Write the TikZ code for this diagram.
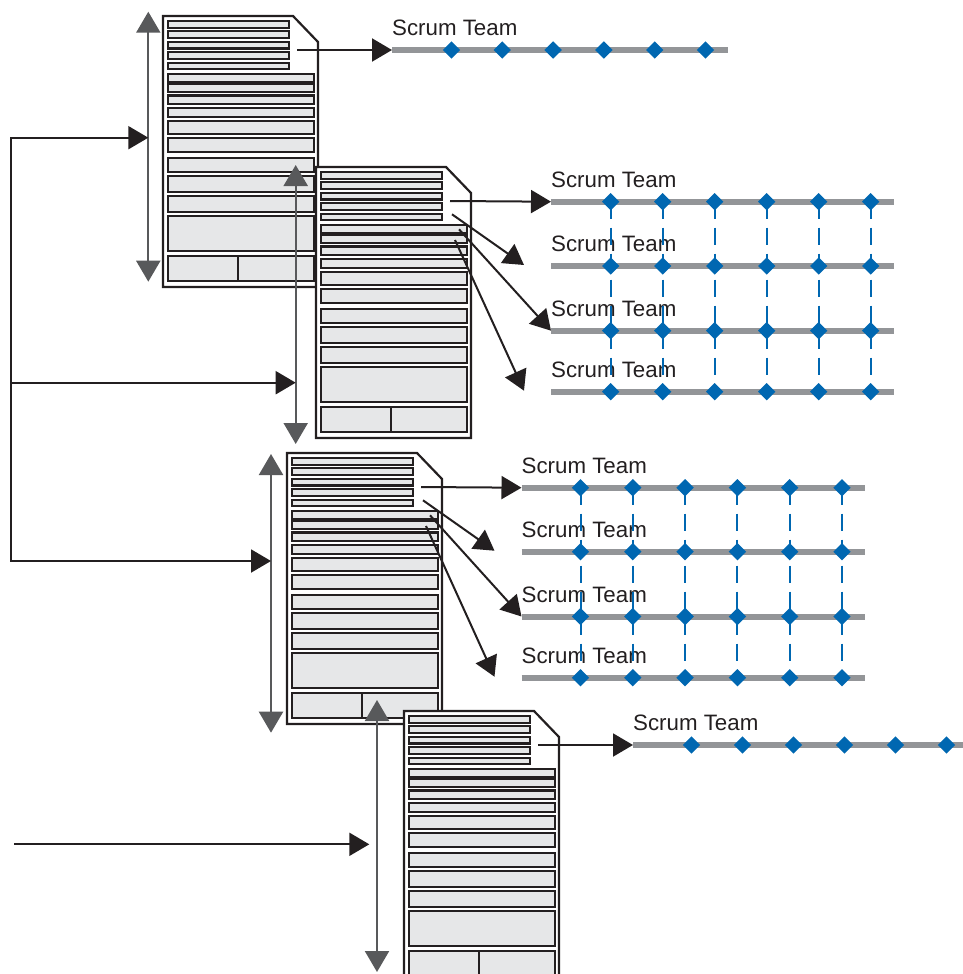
\documentclass[tikz,border=0pt]{standalone}
\usepackage{fontspec}
\setmainfont{Liberation Sans}
\usepackage{xcolor}
\usetikzlibrary{arrows.meta,shapes.geometric,calc}

\definecolor{ink}{HTML}{231F20}
\definecolor{formgray}{HTML}{E6E7E8}
\definecolor{trackgray}{HTML}{939598}
\definecolor{spangray}{HTML}{58595B}
\definecolor{sprintblue}{HTML}{0067B1}

\begin{document}
\begin{tikzpicture}[x=1pt, y=-1pt, >={Triangle[length=20pt,width=23pt]},
    docline/.style={draw=ink, fill=white, line width=2.2pt, line join=miter},
    fieldbox/.style={draw=ink, fill=formgray, line width=2.1pt},
    trackline/.style={draw=trackgray, line width=6pt},
    milestone/.style={diamond, fill=sprintblue, inner sep=0pt, minimum size=17.5pt},
    sprintlink/.style={draw=sprintblue, line width=2pt, dash pattern=on 17pt off 9pt},
    teamlabel/.style={anchor=base west, inner sep=0pt, yshift=14.5pt, text=ink, font=\fontsize{22.3}{26}\selectfont},
    feedarrow/.style={draw=ink, line width=2pt, line join=miter, ->},
    spanarrow/.style={draw=spangray, line width=2.2pt, {Triangle[length=21pt,width=24pt]}-{Triangle[length=21pt,width=24pt]}},
    formsheet/.pic={
        \draw[docline] (0,0) -- (130,0) -- (155,26) -- (155,271) -- (0,271) -- cycle;
        \foreach \ya in {5,15.4,25.8,36.2,46.6}
            \draw[fieldbox] (4.6,\ya) rectangle (126,\ya+6.7);
        \foreach \ya/\yb in {57.8/65.8, 67.8/76, 79.5/88.3, 91.8/101, 105/118.3, 121.8/135.8,
                             141.6/156.3, 160.3/176.2, 180/195.6, 200.3/235, 239.8/265}
            \draw[fieldbox] (4.6,\ya) rectangle (150.8,\yb);
        \draw[fieldbox] (75,239.8) -- (75,265);
        \coordinate (-o1) at (134,34);
        \coordinate (-o2) at (136,47.3);
        \coordinate (-o3) at (143,62.3);
        \coordinate (-o4) at (139,73);
    }]
    \useasboundingbox (0,0) rectangle (963,974);
    \clip (0,0) rectangle (963,974);

    \pic (d1) at (163,16) {formsheet};
    \pic (d2) at (316,167) {formsheet};
    \pic (d3) at (287,453) {formsheet};
    \pic (d4) at (404,711) {formsheet};

    \coordinate (s1a) at (148.3,11.7);  \coordinate (s1b) at (148.3,281.7);
    \coordinate (s2a) at (295.7,165);   \coordinate (s2b) at (295.7,444);
    \coordinate (s3a) at (271,454);     \coordinate (s3b) at (271,732.7);
    \coordinate (s4a) at (377,700);     \coordinate (s4b) at (377,972);
    \foreach \s in {1,...,4}
        \draw[spanarrow] (s\s a) -- (s\s b);

    \coordinate (b1) at (10.7,137.7);
    \coordinate (b2) at (10.7,382.7);
    \coordinate (b3) at (10.7,561);
    \coordinate (b4) at (14,844.3);
    \coordinate (f4) at (369.3,844.3);
    \draw[feedarrow] (b3) -- (b1) -- (s1a |- b1);
    \draw[feedarrow] (b2) -- (s2a |- b2);
    \draw[feedarrow] (b1) -- (b3) -- (s3a |- b3);
    \draw[feedarrow] (b4) -- (f4);

    \foreach \n/\x/\y/\len/\first/\gap in {1/392/50/336/59.5/50.8,
            21/551/201.7/343/59.7/52, 22/551/266/343/59.7/52,
            23/551/330.7/343/59.7/52, 24/551/391.7/343/59.7/52,
            31/521.5/487.7/343/59/52.3, 32/521.5/551.7/343/59/52.3,
            33/521.5/616.5/343/59/52.3, 34/521.5/677.7/343/59/52.3,
            4/633/745/400/58.5/51} {
        \coordinate (t\n) at (\x,\y);
        \coordinate (t\n-near) at (\x-27,\y-1);
        \draw[trackline] (t\n) -- ++(\len,0);
        \node[teamlabel] (l\n) at (t\n) {Scrum Team};
        \foreach \k in {0,...,5}
            \node[milestone] (m\n-\k) at ($(t\n)+(\first+\gap*\k,0)$) {};
    }
    \foreach \k in {0,...,5} {
        \draw[sprintlink] (m21-\k.center) -- (m24-\k.center);
        \draw[sprintlink] (m31-\k.center) -- (m34-\k.center);
    }

    \draw[feedarrow] (d1-o1) -- (t1);
    \draw[feedarrow] (d2-o1) -- (t21);
    \draw[feedarrow] (d2-o2) -- (t22-near);
    \draw[feedarrow] (d2-o3) -- (t23);
    \draw[feedarrow] (d2-o4) -- (t24-near);
    \draw[feedarrow] (d3-o1) -- (t31);
    \draw[feedarrow] (d3-o2) -- (t32-near);
    \draw[feedarrow] (d3-o3) -- (t33);
    \draw[feedarrow] (d3-o4) -- (t34-near);
    \draw[feedarrow] (d4-o1) -- (t4);
\end{tikzpicture}
\end{document}
